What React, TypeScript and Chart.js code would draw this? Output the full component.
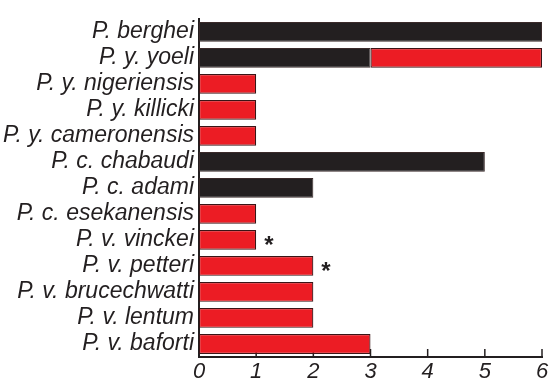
import React, { useEffect, useRef } from "react";
import { Chart, registerables } from "chart.js";

Chart.register(...registerables);

const species = [
  "P. berghei",
  "P. y. yoeli",
  "P. y. nigeriensis",
  "P. y. killicki",
  "P. y. cameronensis",
  "P. c. chabaudi",
  "P. c. adami",
  "P. c. esekanensis",
  "P. v. vinckei",
  "P. v. petteri",
  "P. v. brucechwatti",
  "P. v. lentum",
  "P. v. baforti",
];
const blackValues = [6, 3, 0, 0, 0, 5, 2, 0, 0, 0, 0, 0, 0];
const redValues = [0, 3, 1, 1, 1, 0, 0, 1, 1, 2, 2, 2, 3];
const markers = ["", "", "", "", "", "", "", "", "*", "*", "", "", ""];
const xTicks = [0, 1, 2, 3, 4, 5, 6];

const INK = "#231f20";
const RED = "#ec1c24";

const decorPlugin = {
  id: "decor",
  beforeDatasetsDraw(chart: any) {
    const { ctx, scales } = chart;
    const x = scales.x;
    const bottom = chart.chartArea.bottom;
    ctx.save();
    ctx.strokeStyle = INK;
    ctx.lineWidth = 1.5;
    xTicks.forEach((t) => {
      const px = x.getPixelForValue(t);
      ctx.beginPath();
      ctx.moveTo(px, bottom);
      ctx.lineTo(px, bottom - 8);
      ctx.stroke();
    });
    ctx.restore();
  },
  afterDatasetsDraw(chart: any) {
    const { ctx, scales } = chart;
    const x = scales.x;
    const y = scales.y;
    ctx.save();
    ctx.fillStyle = INK;
    ctx.font = "bold 24px 'Liberation Sans', Arial, sans-serif";
    ctx.textAlign = "left";
    ctx.textBaseline = "middle";
    markers.forEach((m, i) => {
      if (!m) return;
      const total = blackValues[i] + redValues[i];
      const px = x.getPixelForValue(total) + 8;
      const py = y.getPixelForValue(i) + 6;
      ctx.fillText(m, px, py);
    });
    ctx.restore();
  },
};

export default function App() {
  const ref = useRef<HTMLCanvasElement | null>(null);
  useEffect(() => {
    if (!ref.current) return;
    const chart = new Chart(ref.current, {
      type: "bar",
      data: {
        labels: species,
        datasets: [
          {
            label: "black",
            data: blackValues,
            backgroundColor: INK,
            borderColor: "#3a2a2a",
            borderWidth: 1,
            borderSkipped: false,
            categoryPercentage: 1,
            barPercentage: 0.76,
          },
          {
            label: "red",
            data: redValues,
            backgroundColor: RED,
            borderColor: "#3a1416",
            borderWidth: 1.2,
            borderSkipped: false,
            categoryPercentage: 1,
            barPercentage: 0.76,
          },
        ],
      },
      options: {
        indexAxis: "y",
        animation: false,
        responsive: true,
        maintainAspectRatio: false,
        layout: { padding: { top: 0, right: 10, left: 0, bottom: 0 } },
        plugins: {
          legend: { display: false },
          tooltip: { enabled: false },
        },
        scales: {
          x: {
            stacked: true,
            min: 0,
            max: 6,
            afterFit: (s: any) => {
              s.height = 27;
            },
            ticks: {
              stepSize: 1,
              color: INK,
              padding: 2,
              font: { family: "'Liberation Sans', Arial, sans-serif", size: 22, style: "italic" },
            },
            grid: { display: false, drawTicks: false },
            border: { display: true, color: INK, width: 2 },
          },
          y: {
            stacked: true,
            afterFit: (s: any) => {
              s.width = 199;
            },
            ticks: {
              color: INK,
              padding: 5,
              autoSkip: false,
              font: { family: "'Liberation Sans', Arial, sans-serif", size: 23, style: "italic" },
            },
            grid: { display: false, drawTicks: false },
            border: { display: true, color: INK, width: 2 },
          },
        },
      },
      plugins: [decorPlugin],
    });
    return () => chart.destroy();
  }, []);
  return (
    <div style={{ position: "absolute", left: 0, top: 0, width: 552, height: 384, background: "#fff" }}>
      <canvas ref={ref} />
    </div>
  );
}
